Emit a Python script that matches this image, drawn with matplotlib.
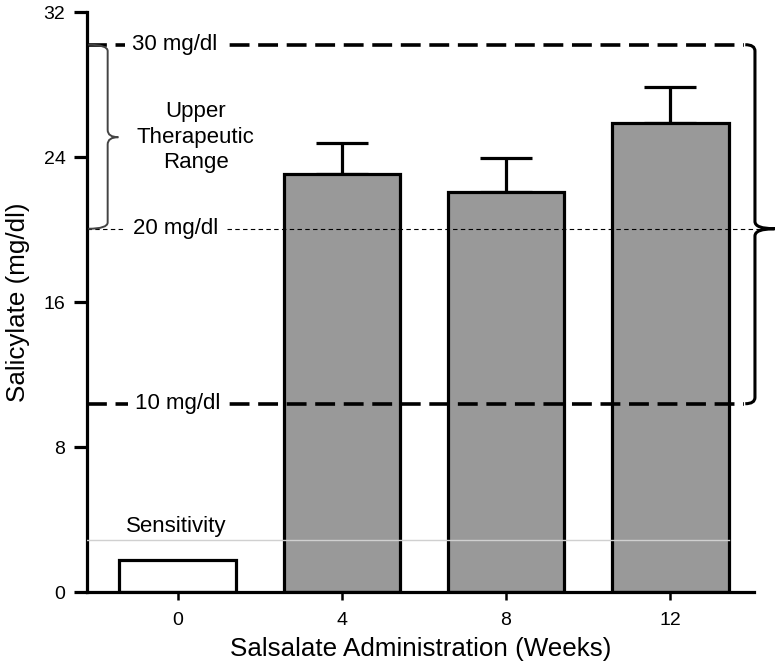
import matplotlib
matplotlib.use("Agg")
import matplotlib.pyplot as plt
from matplotlib.path import Path
from matplotlib.patches import PathPatch
import matplotlib.transforms as mtransforms

plt.rcParams['font.family'] = ['Liberation Sans', 'DejaVu Sans']

weeks = ["0", "4", "8", "12"]
salicylate = [1.8, 23.05, 22.1, 25.9]
err_up = [0.0, 1.75, 1.85, 1.95]
bar_colors = ["white", "#999999", "#999999", "#999999"]

level_hi = 30.2
level_mid = 20.05
level_lo = 10.4
sensitivity = 2.9

fig = plt.figure(figsize=(7.76, 6.71), dpi=100)
ax = fig.add_axes([0.1121, 0.1173, 0.8595, 0.8647])

x = list(range(len(weeks)))
w = 0.71
ax.bar(x, salicylate, width=w, color=bar_colors, edgecolor="black", linewidth=2.3, zorder=2)
ax.errorbar(x[1:], salicylate[1:], yerr=[[0, 0, 0], err_up[1:]], fmt="none",
            ecolor="black", elinewidth=2.3, capsize=19, capthick=2.3, zorder=1)

ax.set_xlim(-0.552, 3.51)
ax.set_ylim(0, 32)
ax.set_xticks(x)
ax.set_xticklabels(weeks)
ax.set_yticks([0, 8, 16, 24, 32])

for s in ["top", "right"]:
    ax.spines[s].set_visible(False)
for s in ["left", "bottom"]:
    ax.spines[s].set_linewidth(2.3)
ax.tick_params(axis="y", length=9.5, width=2.3, labelsize=14, pad=6)
ax.tick_params(axis="x", length=6, width=1.8, labelsize=14, pad=8)

ax.set_xlabel("Salsalate Administration (Weeks)", fontsize=18.7, labelpad=6)
ax.set_ylabel("Salicylate (mg/dl)", fontsize=18.7, labelpad=10)

# reference levels
xr = 3.0 + w / 2
ax.plot([-0.552, 3.45], [level_hi, level_hi], color="black", lw=2.6,
        dashes=(5.5, 2.4), zorder=3, clip_on=False)
ax.plot([-0.552, 3.45], [level_lo, level_lo], color="black", lw=2.6,
        dashes=(5.5, 2.4), zorder=3, clip_on=False)
ax.plot([-0.552, 3.58], [level_mid, level_mid], color="black", lw=0.8,
        dashes=(4, 3), zorder=3, clip_on=False)
ax.plot([-0.552, xr], [sensitivity, sensitivity], color="#d0d0d0", lw=1.0, zorder=3)

box = dict(facecolor="white", edgecolor="none", pad=5)
ax.text(-0.02, level_hi, "30 mg/dl", fontsize=16, ha="center", va="center", bbox=box, zorder=4)
ax.text(-0.01, level_mid, "20 mg/dl", fontsize=16, ha="center", va="center", bbox=box, zorder=4)
ax.text(0.0, level_lo, "10 mg/dl", fontsize=16, ha="center", va="center", bbox=box, zorder=4)
ax.text(-0.01, sensitivity + 0.15, "Sensitivity", fontsize=16, ha="center", va="bottom")
ax.text(0.11, 25.1, "Upper\nTherapeutic\nRange", fontsize=16, ha="center", va="center",
        linespacing=1.3)

# curly braces: x in axes fraction, y in data
trans = mtransforms.blended_transform_factory(ax.transAxes, ax.transData)

def brace(x0, x1, x2, ytop, ymid, ybot, d, r, **kw):
    verts = [(x0, ytop), (x1, ytop), (x1, ytop - r),
             (x1, ymid + d), (x1, ymid), (x2, ymid),
             (x1, ymid), (x1, ymid - d),
             (x1, ybot + r), (x1, ybot), (x0, ybot)]
    codes = [Path.MOVETO, Path.CURVE3, Path.CURVE3,
             Path.LINETO, Path.CURVE3, Path.CURVE3,
             Path.CURVE3, Path.CURVE3,
             Path.LINETO, Path.CURVE3, Path.CURVE3]
    ax.add_patch(PathPatch(Path(verts, codes), transform=trans, fill=False,
                           clip_on=False, zorder=5, **kw))

brace(0.002, 0.031, 0.047, level_hi, 25.1, level_mid, 0.4, 0.35, edgecolor="#444444", lw=1.4)
brace(0.987, 1.0015, 1.031, level_hi, level_mid, level_lo, 0.4, 0.35, edgecolor="black", lw=2.2)

fig.savefig("out.png", dpi=100)
